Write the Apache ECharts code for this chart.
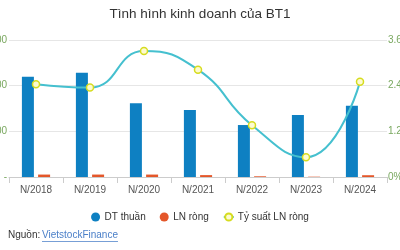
<!DOCTYPE html>
<html><head><meta charset="utf-8">
<script src="https://cdn.jsdelivr.net/npm/echarts@6/dist/echarts.min.js"></script>
<style>html,body{margin:0;padding:0;background:#fff}#c{width:400px;height:250px}</style>
</head><body><div id="c"></div>
<script>
var categories = ['N/2018','N/2019','N/2020','N/2021','N/2022','N/2023','N/2024'];
var revenue = [1098, 1142, 807, 734, 569, 679, 781];
var netProfit = [26.7, 26.8, 26.7, 20.7, 7.7, 3.5, 19.5];
var margin = [2.44, 2.35, 3.31, 2.82, 1.36, 0.52, 2.50];
var leftTicks = [0, 500, 1000, 1500];
var rightTicks = [0, 1.2, 2.4, 3.6];

var chart = echarts.init(document.getElementById('c'), null, {renderer:'canvas'});
var font = '"Liberation Sans", Arial, sans-serif';
var linkText = 'VietstockFinance';
var mctx = document.createElement('canvas').getContext('2d');
mctx.font = '10px ' + font;
var linkW = mctx.measureText(linkText).width;
chart.setOption({
  animation:false,
  backgroundColor:'#fff',
  title:{text:'Tình hình kinh doanh của BT1',left:'center',top:2,
    textStyle:{fontFamily:font,fontSize:13.5,fontWeight:'normal',color:'#333'}},
  legend:{top:207,left:'center',itemGap:14,itemWidth:10,itemHeight:9,
    textStyle:{fontFamily:font,fontSize:10,color:'#333',padding:[0,0,0,-1]},
    data:[{name:'DT thuần',icon:'circle'},{name:'LN ròng',icon:'circle'},{name:'Tỷ suất LN ròng'}]},
  grid:{left:9,right:13,top:40,bottom:73,containLabel:false,outerBoundsMode:'none'},
  xAxis:{type:'category',data:categories,
    axisLine:{lineStyle:{color:'#ccc'}},
    axisTick:{show:true,length:6,lineStyle:{color:'#ccc'}},
    axisLabel:{fontFamily:font,fontSize:10,color:'#555',margin:8}},
  yAxis:[{type:'value',min:leftTicks[0],max:leftTicks[leftTicks.length-1],interval:leftTicks[1]-leftTicks[0],
      axisLabel:{fontFamily:font,fontSize:10,color:'#7aa860',margin:2,
        formatter:function(v){return v===0?'-':v.toLocaleString('en-US');}},
      splitLine:{lineStyle:{color:'#e6e6e6'}},axisLine:{show:false},axisTick:{show:false}},
    {type:'value',min:rightTicks[0],max:rightTicks[rightTicks.length-1],interval:rightTicks[1]-rightTicks[0],
      axisLabel:{fontFamily:font,fontSize:10,color:'#7aa860',margin:1,
        formatter:function(v){return v===0?'0%':(Math.round(v*10)/10).toFixed(1)+'%';}},
      splitLine:{show:false},axisLine:{show:false},axisTick:{show:false}}],
  series:[
    {name:'DT thuần',type:'bar',data:revenue,barWidth:12,barGap:'35%',itemStyle:{color:'#0e80c2'}},
    {name:'LN ròng',type:'bar',data:netProfit,barWidth:12,itemStyle:{color:'#e4572a'}},
    {name:'Tỷ suất LN ròng',type:'line',yAxisIndex:1,data:margin,smooth:true,
      symbol:'circle',symbolSize:7,
      lineStyle:{color:'#45c0cf',width:2},
      itemStyle:{color:'#fdfbd0',borderColor:'#d6dc1f',borderWidth:1.5}}
  ],
  graphic:[
    {type:'text',left:8,top:230,style:{text:'Nguồn:',fontFamily:font,fontSize:10,fill:'#333'}},
    {type:'text',left:42,top:230,style:{text:linkText,fontFamily:font,fontSize:10,fill:'#4a7fc8'}},
    {type:'rect',left:42,top:241,shape:{width:linkW,height:0.8},style:{fill:'#4a7fc8'}}
  ]
});
</script></body></html>
